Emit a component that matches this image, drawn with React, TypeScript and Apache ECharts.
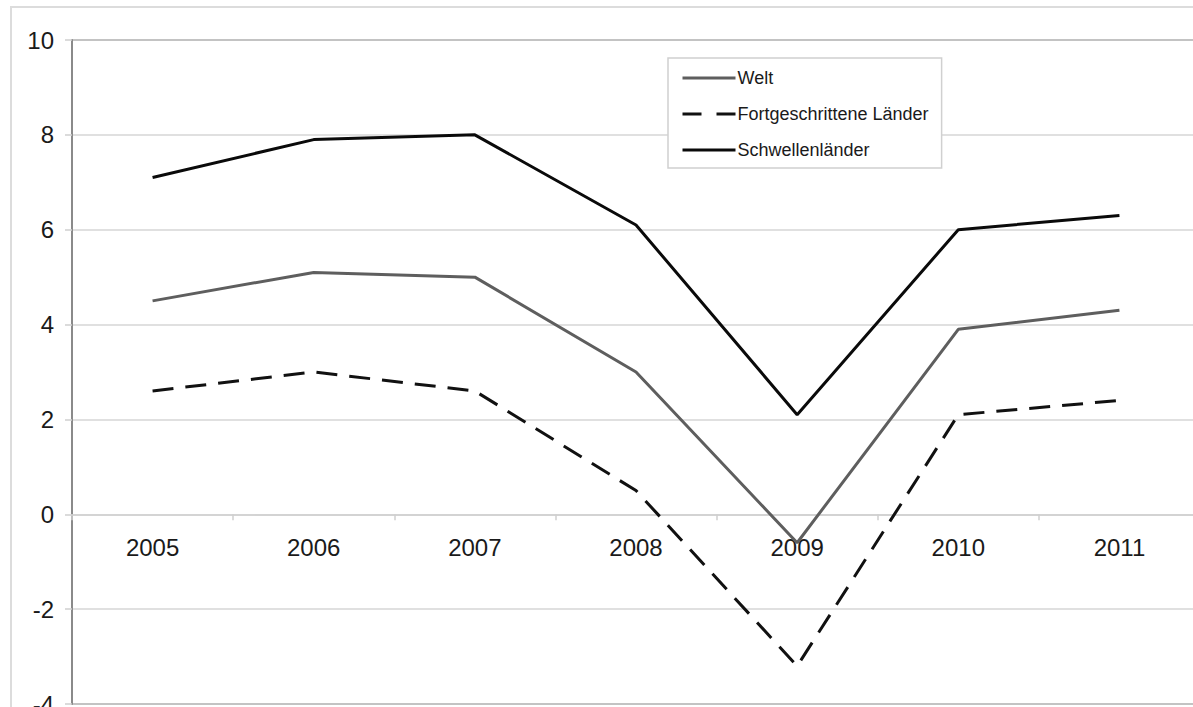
import React, { useEffect, useRef } from "react";
import * as echarts from "echarts";

const years = ["2005", "2006", "2007", "2008", "2009", "2010", "2011"];
const welt = [4.5, 5.1, 5.0, 3.0, -0.6, 3.9, 4.3];
const fortgeschritten = [2.6, 3.0, 2.6, 0.5, -3.2, 2.1, 2.4];
const schwellen = [7.1, 7.9, 8.0, 6.1, 2.1, 6.0, 6.3];
const seriesNames = ["Welt", "Fortgeschrittene Länder", "Schwellenländer"];

const FONT = "Arial, 'Liberation Sans', Helvetica, sans-serif";

const Y_MIN = -4;
const Y_MAX = 10;
const GRID_TOP = 40;
const GRID_HEIGHT = 664;
// shift the category axis up so it sits on the zero line
const X_AXIS_OFFSET = -(GRID_HEIGHT * (0 - Y_MIN)) / (Y_MAX - Y_MIN);

export default function App() {
  const ref = useRef<HTMLDivElement>(null);
  useEffect(() => {
    if (!ref.current) return;
    const chart = echarts.init(ref.current, undefined, { renderer: "svg" });
    chart.setOption({
      animation: false,
      backgroundColor: "#ffffff",
      graphic: [
        {
          type: "rect",
          shape: { x: 11, y: 7, width: 1400, height: 900 },
          style: { fill: "none", stroke: "#dcdcdc", lineWidth: 2 },
          z: -10,
        },
      ],
      grid: {
        left: 72,
        top: GRID_TOP,
        width: 1128,
        height: GRID_HEIGHT,
        show: true,
        borderColor: "#8a8a8a",
        borderWidth: 2,
        containLabel: false,
        outerBoundsMode: "none",
      },
      legend: {
        orient: "vertical",
        left: 668,
        top: 58,
        padding: [10, 13, 8, 13],
        borderColor: "#d0d0d0",
        borderWidth: 1.5,
        backgroundColor: "#ffffff",
        itemWidth: 53,
        itemHeight: 20,
        itemGap: 16,
        itemStyle: { opacity: 0 },
        data: [
          { name: seriesNames[0], lineStyle: { color: "#5e5e5e", width: 3, type: "solid" } },
          { name: seriesNames[1], lineStyle: { color: "#111111", width: 3, type: [19, 15] } },
          { name: seriesNames[2], lineStyle: { color: "#0a0a0a", width: 3, type: "solid" } },
        ],
        textStyle: {
          fontFamily: FONT,
          fontSize: 18,
          color: "#1a1a1a",
          lineHeight: 20,
          padding: [0, 0, 0, -3],
        },
      },
      xAxis: {
        type: "category",
        data: years,
        boundaryGap: true,
        offset: X_AXIS_OFFSET,
        axisLine: { onZero: false, lineStyle: { color: "#cfcfcf", width: 1.5 } },
        axisTick: { show: true, length: 6, lineStyle: { color: "#cfcfcf", width: 1.5 } },
        axisLabel: { fontFamily: FONT, fontSize: 24, color: "#1a1a1a", margin: 21 },
        splitLine: { show: false },
      },
      yAxis: {
        type: "value",
        min: Y_MIN,
        max: Y_MAX,
        interval: 2,
        axisLine: { show: true, onZero: false, lineStyle: { color: "#8a8a8a", width: 2 } },
        axisTick: { show: true, length: 7, lineStyle: { color: "#cfcfcf", width: 1.5 } },
        axisLabel: { fontFamily: FONT, fontSize: 24, color: "#1a1a1a", margin: 18 },
        splitLine: { show: true, lineStyle: { color: "#d6d6d6", width: 1.5 } },
      },
      series: [
        {
          name: seriesNames[0],
          type: "line",
          data: welt,
          symbol: "none",
          lineStyle: { color: "#5e5e5e", width: 3 },
          itemStyle: { color: "#5e5e5e" },
          z: 3,
        },
        {
          name: seriesNames[1],
          type: "line",
          data: fortgeschritten,
          symbol: "none",
          lineStyle: { color: "#111111", width: 3, type: [21, 12] },
          itemStyle: { color: "#111111" },
          z: 2,
        },
        {
          name: seriesNames[2],
          type: "line",
          data: schwellen,
          symbol: "none",
          lineStyle: { color: "#0a0a0a", width: 3 },
          itemStyle: { color: "#0a0a0a" },
          z: 4,
        },
      ],
    });
    return () => chart.dispose();
  }, []);
  return (
    <div
      ref={ref}
      style={{ position: "absolute", left: 0, top: 0, width: 1193, height: 707, overflow: "hidden" }}
    />
  );
}
